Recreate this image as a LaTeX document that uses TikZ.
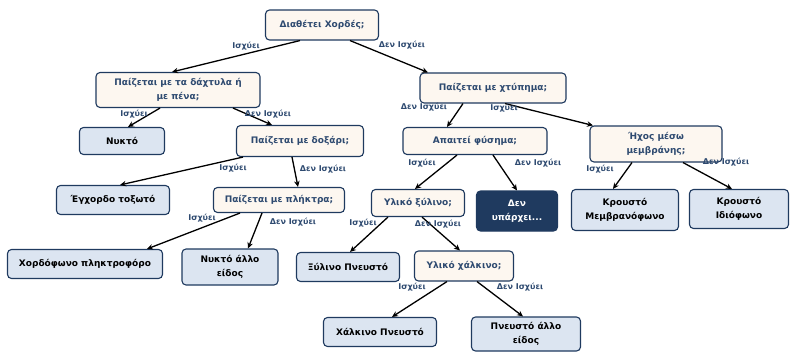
\documentclass[tikz,border=0pt]{standalone}
\usepackage{fontspec}
\setmainfont{DejaVu Sans}
\usetikzlibrary{arrows.meta}
\definecolor{navy}{HTML}{1F3A5F}
\definecolor{cream}{HTML}{FDF7F0}
\definecolor{paleblue}{HTML}{DCE5F1}
\definecolor{labelblue}{HTML}{2E4A70}
\begin{document}
\begin{tikzpicture}[x=1pt,y=-1pt,
  every node/.style={font=\bfseries\fontsize{9}{14}\selectfont},
  qbox/.style={draw=navy,line width=1.1pt,rounded corners=4pt,fill=cream,text=labelblue,align=center,inner sep=2pt},
  leafbox/.style={draw=navy,line width=1.1pt,rounded corners=4pt,fill=paleblue,text=black,align=center,inner sep=2pt},
  darkbox/.style={draw=navy,line width=1.1pt,rounded corners=4pt,fill=navy,text=white,align=center,inner sep=2pt},
  answer/.style={text=labelblue,font=\bfseries\fontsize{8}{9}\selectfont,inner sep=0pt},
  arr/.style={-{Stealth[length=6pt,width=5.5pt]},line width=1.3pt,black}]
  \useasboundingbox (0,0) rectangle (790,351);
  % questions
  \node[qbox,minimum width=113,minimum height=30] (chords) at (322,25) {Διαθέτει Χορδές;};
  \node[qbox,minimum width=164,minimum height=35] (fingers) at (178,90) {Παίζεται με τα δάχτυλα ή\\με πένα;};
  \node[qbox,minimum width=146,minimum height=30] (hit) at (493,88) {Παίζεται με χτύπημα;};
  \node[qbox,minimum width=127,minimum height=31] (bow) at (300,141) {Παίζεται με δοξάρι;};
  \node[qbox,minimum width=144,minimum height=27] (blow) at (475,141) {Απαιτεί φύσημα;};
  \node[qbox,minimum width=132,minimum height=36] (membrane) at (656,144) {Ήχος μέσω\\μεμβράνης;};
  \node[qbox,minimum width=131,minimum height=25] (keys) at (279,200) {Παίζεται με πλήκτρα;};
  \node[qbox,minimum width=93,minimum height=27] (wood) at (418,203) {Υλικό ξύλινο;};
  \node[qbox,minimum width=99,minimum height=30] (brass) at (464,266) {Υλικό χάλκινο;};
  % answers
  \node[leafbox,minimum width=85,minimum height=27] (plucked) at (122,141) {Νυκτό};
  \node[leafbox,minimum width=113,minimum height=29] (bowed) at (113,200) {Έγχορδο τοξωτό};
  \node[darkbox,minimum width=81,minimum height=40] (none) at (517,211) {Δεν\\υπάρχει...};
  \node[leafbox,minimum width=107,minimum height=41] (membranophone) at (625,210) {Κρουστό\\Μεμβρανόφωνο};
  \node[leafbox,minimum width=99,minimum height=39] (idiophone) at (739,209) {Κρουστό\\Ιδιόφωνο};
  \node[leafbox,minimum width=155,minimum height=29] (keyboard) at (85,264) {Χορδόφωνο πληκτροφόρο};
  \node[leafbox,minimum width=96,minimum height=36] (pluckedother) at (230,267) {Νυκτό άλλο\\είδος};
  \node[leafbox,minimum width=103,minimum height=29] (woodwind) at (348,267) {Ξύλινο Πνευστό};
  \node[leafbox,minimum width=113,minimum height=29] (brasswind) at (380,332) {Χάλκινο Πνευστό};
  \node[leafbox,minimum width=109,minimum height=34] (windother) at (526,334) {Πνευστό άλλο\\είδος};
  % connectors
  \draw[arr] ([xshift=-22pt]chords.south) -- ([xshift=-6pt]fingers.north);
  \draw[arr] ([xshift=28pt]chords.south) -- ([xshift=-65pt]hit.north);
  \draw[arr] ([xshift=-18pt]fingers.south) -- ([xshift=6pt]plucked.north);
  \draw[arr] ([xshift=55pt]fingers.south) -- ([xshift=-28pt]bow.north);
  \draw[arr] ([xshift=-30pt]hit.south) -- ([xshift=-28pt]blow.north);
  \draw[arr] ([xshift=12pt]hit.south) -- ([xshift=-63pt]membrane.north);
  \draw[arr] ([xshift=-57pt]bow.south) -- ([xshift=7pt]bowed.north);
  \draw[arr] ([xshift=-8pt]bow.south) -- ([xshift=19pt]keys.north);
  \draw[arr] ([xshift=-18pt]blow.south) -- ([xshift=-3pt]wood.north);
  \draw[arr] ([xshift=18pt]blow.south) -- (none.north);
  \draw[arr] ([xshift=-24pt]membrane.south) -- ([xshift=-12pt]membranophone.north);
  \draw[arr] ([xshift=27pt]membrane.south) -- ([xshift=-7pt]idiophone.north);
  \draw[arr] ([xshift=-39pt]keys.south) -- ([xshift=62pt]keyboard.north);
  \draw[arr] ([xshift=-17pt]keys.south) -- ([xshift=18pt]pluckedother.north);
  \draw[arr] ([xshift=-30pt]wood.south) -- ([xshift=2pt]woodwind.north);
  \draw[arr] ([xshift=4pt]wood.south) -- ([xshift=-4pt]brass.north);
  \draw[arr] ([xshift=-17pt]brass.south) -- ([xshift=12pt]brasswind.north);
  \draw[arr] ([xshift=13pt]brass.south) -- ([xshift=-3pt]windother.north);
  % edge labels
  \node[answer] (y1) at (246,46) {Ισχύει};
  \node[answer] (n1) at (402,45) {Δεν Ισχύει};
  \node[answer] (y2) at (134,114) {Ισχύει};
  \node[answer] (n2) at (268,114) {Δεν Ισχύει};
  \node[answer] (n3) at (424,107) {Δεν Ισχύει};
  \node[answer] (y3) at (504,108) {Ισχύει};
  \node[answer] (y4) at (233,168) {Ισχύει};
  \node[answer] (n4) at (323,169) {Δεν Ισχύει};
  \node[answer] (y5) at (422,163) {Ισχύει};
  \node[answer] (n5) at (538,163) {Δεν Ισχύει};
  \node[answer] (y6) at (600,169) {Ισχύει};
  \node[answer] (n6) at (726,162) {Δεν Ισχύει};
  \node[answer] (y7) at (202,218) {Ισχύει};
  \node[answer] (n7) at (293,222) {Δεν Ισχύει};
  \node[answer] (y8) at (363,223) {Ισχύει};
  \node[answer] (n8) at (438,224) {Δεν Ισχύει};
  \node[answer] (y9) at (412,287) {Ισχύει};
  \node[answer] (n9) at (520,287) {Δεν Ισχύει};
\end{tikzpicture}
\end{document}
